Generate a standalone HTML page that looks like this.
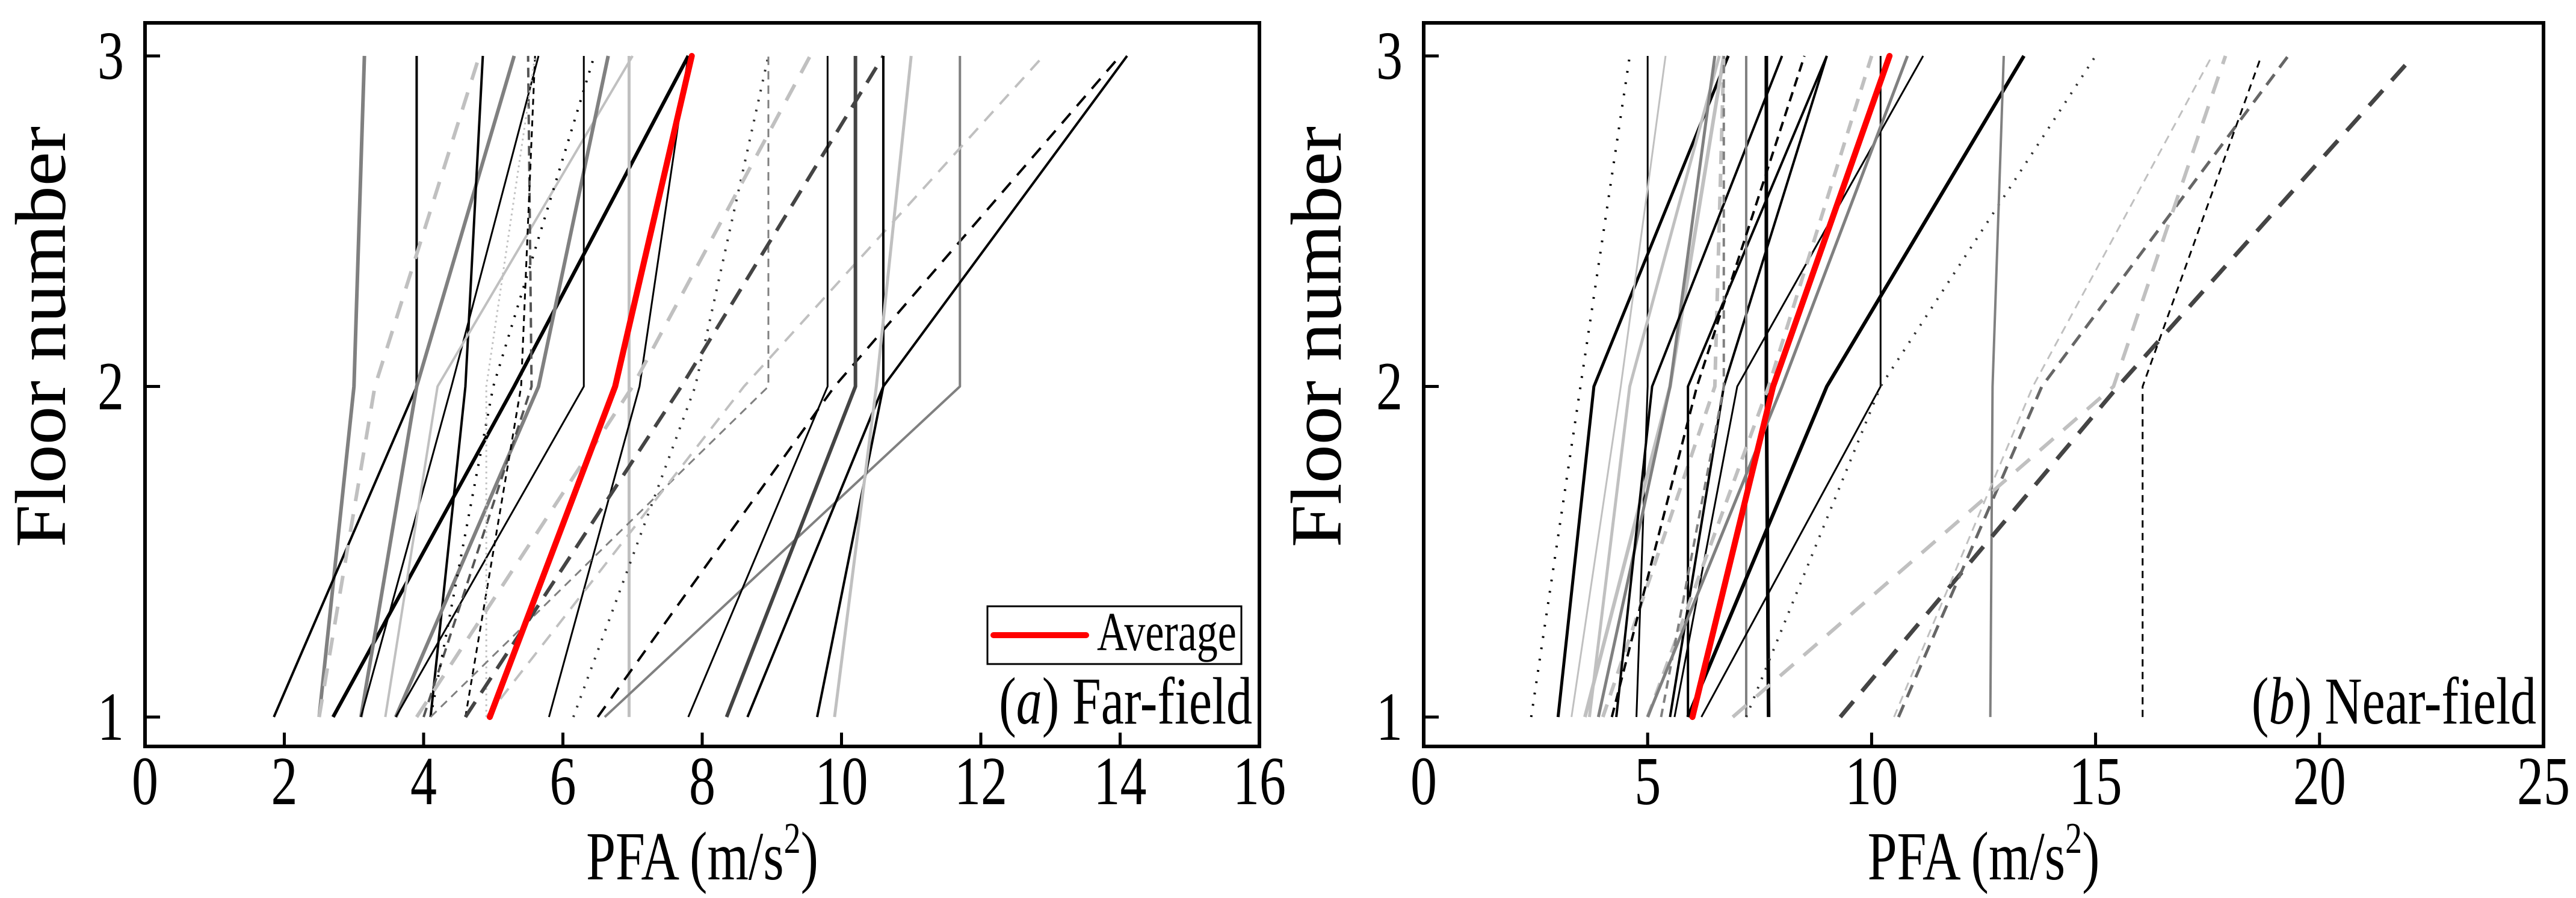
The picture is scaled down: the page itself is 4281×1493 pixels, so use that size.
<!DOCTYPE html>
<html><head><meta charset="utf-8"><style>
html,body{margin:0;padding:0;background:#fff;}
svg{display:block;}
svg text{font-family:"Liberation Serif","Times New Roman",serif;}
</style></head><body>
<svg id="chart" width="4281" height="1493" viewBox="0 0 4281 1493" xmlns="http://www.w3.org/2000/svg" font-family="Liberation Serif, serif">
<g id="pa"></g>
<g id="pb"></g>
</svg>
<script>
const floors = [1, 2, 3];
const farXTicks = [0, 2, 4, 6, 8, 10, 12, 14, 16];
const nearXTicks = [0, 5, 10, 15, 20, 25];
const yTicks = [1, 2, 3];
// each record: [pfa floor1, floor2, floor3]
const farRecords = [
 [2.5,3.0,3.15],[1.85,3.9,3.9],[2.5,3.3,4.8],[2.7,5.3,7.8],[3.1,3.9,5.3],
 [4.1,4.6,4.85],[3.1,4.4,5.65],[3.45,4.2,7.0],[3.6,5.65,6.65],[3.6,6.3,6.3],
 [6.95,6.95,6.95],[4.0,5.55,5.5],[4.1,5.0,6.45],[4.6,5.4,5.6],[4.9,4.9,5.6],
 [5.8,7.1,7.8],[6.15,7.9,8.95],[4.1,8.95,8.95],[6.5,9.9,14.0],[6.6,11.7,11.7],
 [4.6,7.7,10.6],[4.9,8.6,12.9],[3.9,7.0,9.55],[7.8,9.8,9.8],[8.35,10.2,10.2],
 [9.65,10.6,14.1],[8.65,10.6,10.6],[9.9,10.5,11.0]
];
const farStyles = [
 ['#808080',6,''],['#000',4,''],['#c0c0c0',6,'30 22'],['#000',6,''],['#808080',6,''],
 ['#000',4,''],['#000',3,''],['#c0c0c0',4,''],['#808080',6,''],['#000',3,''],
 ['#c0c0c0',5,''],['#555',4,'16 10'],['#000',4,'3 14'],['#000',3,'10 8'],['#c0c0c0',3,'3 6'],
 ['#000',3,''],['#333',4,'3 14'],['#808080',3,'14 10'],['#000',4,'22 16'],['#808080',4,''],
 ['#444',6,'30 18'],['#c0c0c0',4,'22 16'],['#c0c0c0',6,'30 22'],['#000',3,''],['#444',6,''],
 ['#000',4,''],['#000',4,''],['#c0c0c0',5,'']
];
const farAverage = [4.95, 6.75, 7.85];
const nearRecords = [
 [2.4,3.5,4.6],[3.0,3.8,6.8],[4.75,5.0,5.0],[3.6,5.5,6.7],[3.7,4.6,6.6],
 [4.0,6.5,6.7],[3.9,5.5,6.5],[4.3,5.1,8.0],[5.5,6.7,9.0],[5.9,5.9,9.0],
 [7.2,7.2,7.2],[7.7,7.65,7.65],[5.9,9.0,13.4],[6.2,10.2,10.2],[5.6,7.0,11.15],
 [7.2,10.2,15.0],[12.65,12.7,12.95],[9.3,15.5,22.1],[10.6,13.8,19.3],[16.05,16.05,18.7],
 [6.9,15.4,17.9],[10.5,13.6,17.6],[5.0,7.7,10.0],[5.3,6.7,6.7],[5.0,8.0,10.8],
 [3.3,4.4,5.4],[4.2,6.1,8.5]
];
const nearStyles = [
 ['#000',4,'3 16'],['#000',5,''],['#000',3,''],['#c0c0c0',6,''],['#c0c0c0',5,''],
 ['#c0c0c0',6,'22 16'],['#808080',5,''],['#000',4,''],['#000',4,''],['#000',4,''],
 ['#808080',4,''],['#000',6,''],['#000',6,''],['#000',3,''],['#000',3,''],
 ['#333',4,'3 14'],['#808080',4,''],['#444',7,'34 22'],['#666',5,'22 14'],['#000',3,'12 9'],
 ['#c0c0c0',6,'30 22'],['#c0c0c0',3,'14 10'],['#c0c0c0',6,'22 16'],['#808080',4,'14 10'],['#808080',5,''],
 ['#c0c0c0',3,''],['#000',4,'16 10']
];
const nearAverage = [6.0, 7.8, 10.4];

const NS='http://www.w3.org/2000/svg';
const FF='Liberation Serif, Times New Roman, serif';
const VS=1.3;
function mk(tag, attrs, parent){const e=document.createElementNS(NS,tag);for(const k in attrs)e.setAttribute(k,attrs[k]);if(tag==='text')e.setAttribute('font-family',FF);parent.appendChild(e);return e;}
function stretch(x,y){return 'translate('+x+' '+y+') scale(1 '+VS+') translate('+(-x)+' '+(-y)+')';}

function panel(g, x0, x1, xmax, xticks, recs, styles, avg, label, italicLetter, legend, ylabX){
  const yTop=38, yBot=1241;
  const ymin=0.911, ymax=3.1;
  const sx=v=>x0+(v/xmax)*(x1-x0);
  const sy=v=>yBot-(v-ymin)/(ymax-ymin)*(yBot-yTop);
  const clip='clip'+x0;
  const cp=mk('clipPath',{id:clip},g);
  mk('rect',{x:x0,y:yTop,width:x1-x0,height:yBot-yTop},cp);
  const lines=mk('g',{'clip-path':'url(#'+clip+')'},g);
  recs.forEach((r,i)=>{
    const st=styles[i];
    const p=mk('polyline',{points:r.map((v,j)=>sx(v)+','+sy(floors[j])).join(' '),fill:'none',stroke:st[0],'stroke-width':st[1],'stroke-dasharray':st[2]||'none','stroke-linejoin':'round'},lines);
    
    
  });
  const a=mk('polyline',{points:avg.map((v,j)=>sx(v)+','+sy(floors[j])).join(' '),fill:'none',stroke:'#ff0000','stroke-width':10,'stroke-linejoin':'round','stroke-linecap':'round'},lines);
  
  
  const f=mk('rect',{x:x0,y:yTop,width:x1-x0,height:yBot-yTop,fill:'none',stroke:'#000','stroke-width':6},g);
  
  
  xticks.forEach(t=>{
    const x=sx(t);
    mk('line',{x1:x,x2:x,y1:yBot,y2:yBot-23,stroke:'#000','stroke-width':5},g);
    const tx=mk('text',{x:x,y:1337,'font-size':88,'text-anchor':'middle',transform:stretch(x,1337)},g);
    tx.textContent=t;
    
    
  });
  yTicks.forEach(t=>{
    const y=sy(t);
    mk('line',{x1:x0,x2:x0+25,y1:y,y2:y,stroke:'#000','stroke-width':5},g);
    const tx=mk('text',{x:x0-35,y:y+38,'font-size':88,'text-anchor':'end',transform:stretch(x0-35,y+38)},g);
    tx.textContent=t;
    
    
  });
  const cx=(x0+x1)/2;
  const xt=mk('text',{x:cx,y:1462,'font-size':88,'text-anchor':'middle',transform:stretch(cx,1462)},g);
  xt.innerHTML='PFA (m/s<tspan dy="-34" font-size="56">2</tspan><tspan dy="34">)</tspan>';
  
  
  const yt=mk('text',{x:0,y:0,'font-size':100,'text-anchor':'middle',transform:'translate('+ylabX+' 560) rotate(-90) scale(1.28 1.2)'},g);
  yt.textContent='Floor number';
  
  
  const pl=mk('text',{x:x1-12,y:1203,'font-size':86,'text-anchor':'end',transform:stretch(x1-12,1203)},g);
  pl.innerHTML='(<tspan font-style="italic">'+italicLetter+'</tspan>) '+label;
  
  
  if(legend){
    const lg=mk('g',{},g);
    
    
    mk('rect',{x:1641,y:1008,width:422,height:96,fill:'#fff',stroke:'#000','stroke-width':3},lg);
    mk('line',{x1:1651,x2:1805,y1:1056,y2:1056,stroke:'#ff0000','stroke-width':10,'stroke-linecap':'round'},lg);
    const lt=mk('text',{x:1823,y:1081,'font-size':70,transform:stretch(1823,1081)},lg);
    lt.textContent='Average';
    
    
  }
}
panel(document.getElementById('pa'),241,2093,16,farXTicks,farRecords,farStyles,farAverage,'Far-field','a',true,108);
panel(document.getElementById('pb'),2366,4227,25,nearXTicks,nearRecords,nearStyles,nearAverage,'Near-field','b',false,2228);
</script>
</body></html>
